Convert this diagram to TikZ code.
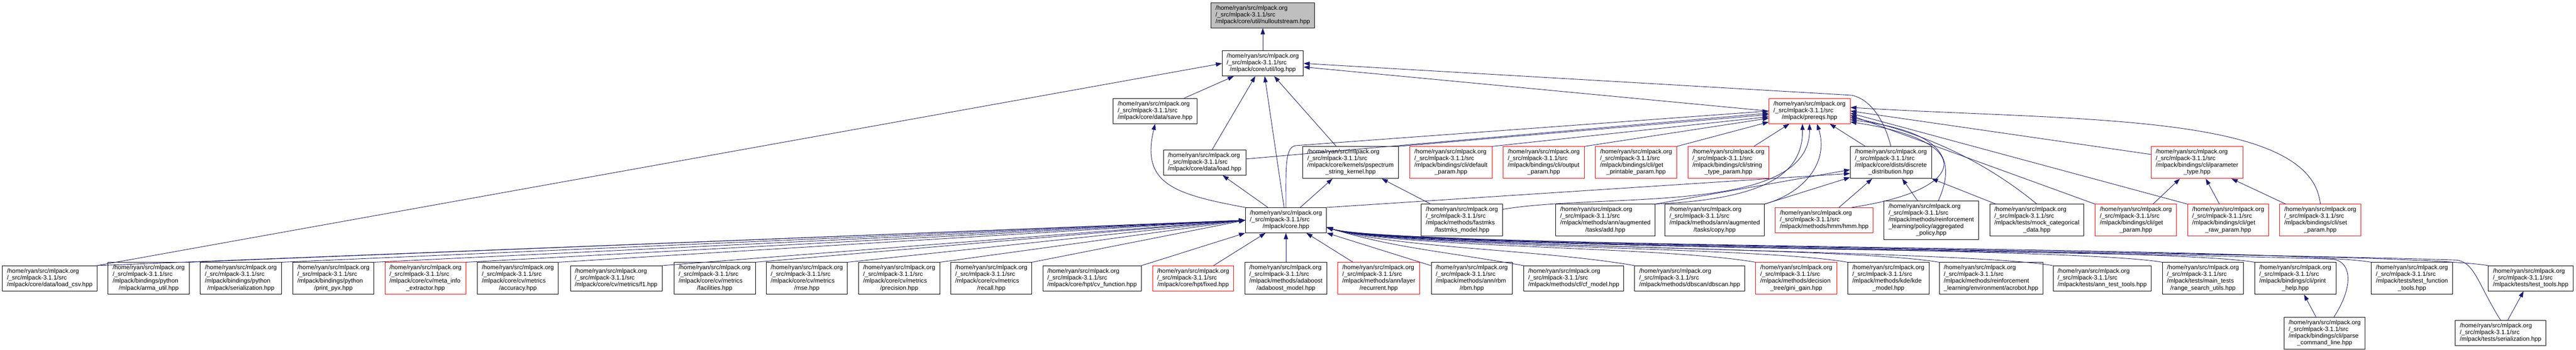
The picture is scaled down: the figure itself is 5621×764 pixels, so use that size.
\documentclass[tikz,border=0pt]{standalone}
\usepackage{fontspec}
\setmainfont{Liberation Sans}
\usetikzlibrary{arrows.meta}
\definecolor{edgeblue}{HTML}{191970}
\definecolor{rootgrey}{HTML}{BFBFBF}
\tikzset{
  filebox/.style={draw=black, fill=white, line width=0.75pt, inner xsep=7.5pt, inner ysep=4.1pt, font=\fontsize{10}{11}\selectfont},
  redbox/.style={filebox, draw=red},
  rootbox/.style={filebox, fill=rootgrey},
  inc/.style={draw=edgeblue, line width=0.75pt, -{Triangle[length=10pt,width=7pt]}}
}
\newcommand{\hpp}[2]{\begin{tabular}{@{}l@{}}/home/ryan/src/mlpack.org\\/\_src/mlpack-3.1.1/src\\#1\multicolumn{1}{@{}c@{}}{#2}\end{tabular}}
\newcommand{\hppnode}[6][filebox]{\node[#1] (#2) at (#3,#4) {\hpp{#5}{#6}};}

\begin{document}
\begin{tikzpicture}[x=0.75pt,y=-0.75pt]
        \useasboundingbox (0,0) rectangle (5621,764);
        % top
        \hppnode[rootbox]{root}{2755.5}{33.5}{}{/mlpack/core/util/nulloutstream.hpp}
        \hppnode{log}{2755.5}{138.5}{}{/mlpack/core/util/log.hpp}
        % level 2
        \hppnode{save}{2520.5}{242.5}{}{/mlpack/core/data/save.hpp}
        \hppnode[redbox]{prereqs}{3948.5}{242.5}{}{/mlpack/prereqs.hpp}
        % level 3
        \hppnode{load}{2628.5}{355}{}{/mlpack/core/data/load.hpp}
        \hppnode{pspectrum}{2947}{355}{/mlpack/core/kernels/pspectrum\\}{\_string\_kernel.hpp}
        \hppnode[redbox]{defparam}{3166}{355}{/mlpack/bindings/cli/default\\}{\_param.hpp}
        \hppnode[redbox]{outparam}{3368.5}{355}{/mlpack/bindings/cli/output\\}{\_param.hpp}
        \hppnode[redbox]{printparam}{3570}{355}{/mlpack/bindings/cli/get\\}{\_printable\_param.hpp}
        \hppnode[redbox]{strparam}{3771.5}{355}{/mlpack/bindings/cli/string\\}{\_type\_param.hpp}
        \hppnode{discrete}{4126}{355}{/mlpack/core/dists/discrete\\}{\_distribution.hpp}
        \hppnode[redbox]{paramtype}{4794}{355}{/mlpack/bindings/cli/parameter\\}{\_type.hpp}
        % level 4
        \hppnode{core}{2806}{481}{}{/mlpack/core.hpp}
        \hppnode{fastmks}{3190}{481}{/mlpack/methods/fastmks\\}{/fastmks\_model.hpp}
        \hppnode{augadd}{3503}{481}{/mlpack/methods/ann/augmented\\}{/tasks/add.hpp}
        \hppnode{augcopy}{3741.5}{481}{/mlpack/methods/ann/augmented\\}{/tasks/copy.hpp}
        \hppnode[redbox]{hmm}{3980.5}{481}{}{/mlpack/methods/hmm/hmm.hpp}
        \hppnode{aggpolicy}{4214}{481}{/mlpack/methods/reinforcement\\\_learning/policy/aggregated\\}{\_policy.hpp}
        \hppnode{mockcat}{4444.5}{481}{/mlpack/tests/mock\_categorical\\}{\_data.hpp}
        \hppnode[redbox]{getparam}{4660.5}{481}{/mlpack/bindings/cli/get\\}{\_param.hpp}
        \hppnode[redbox]{getraw}{4862}{481}{/mlpack/bindings/cli/get\\}{\_raw\_param.hpp}
        \hppnode[redbox]{setparam}{5063}{481}{/mlpack/bindings/cli/set\\}{\_param.hpp}
        % bottom row
        \hppnode{loadcsv}{108.5}{608}{}{/mlpack/core/data/load\_csv.hpp}
        \hppnode{armautil}{324.5}{608}{/mlpack/bindings/python\\}{/mlpack/arma\_util.hpp}
        \hppnode{pyser}{525.5}{608}{/mlpack/bindings/python\\}{/mlpack/serialization.hpp}
        \hppnode{printpyx}{727.5}{608}{/mlpack/bindings/python\\}{/print\_pyx.hpp}
        \hppnode[redbox]{metainfo}{928.5}{608}{/mlpack/core/cv/meta\_info\\}{\_extractor.hpp}
        \hppnode{accuracy}{1130}{608}{/mlpack/core/cv/metrics\\}{/accuracy.hpp}
        \hppnode{fone}{1344.5}{608}{}{/mlpack/core/cv/metrics/f1.hpp}
        \hppnode{facilities}{1559.5}{608}{/mlpack/core/cv/metrics\\}{/facilities.hpp}
        \hppnode{mse}{1760.5}{608}{/mlpack/core/cv/metrics\\}{/mse.hpp}
        \hppnode{precision}{1962}{608}{/mlpack/core/cv/metrics\\}{/precision.hpp}
        \hppnode{recall}{2163}{608}{/mlpack/core/cv/metrics\\}{/recall.hpp}
        \hppnode{cvfunc}{2383}{608}{}{/mlpack/core/hpt/cv\_function.hpp}
        \hppnode[redbox]{fixed}{2603.5}{608}{}{/mlpack/core/hpt/fixed.hpp}
        \hppnode{adaboost}{2806}{608}{/mlpack/methods/adaboost\\}{/adaboost\_model.hpp}
        \hppnode[redbox]{recurrent}{3008.5}{608}{/mlpack/methods/ann/layer\\}{/recurrent.hpp}
        \hppnode{rbm}{3211.5}{608}{/mlpack/methods/ann/rbm\\}{/rbm.hpp}
        \hppnode{cfmodel}{3434}{608}{}{/mlpack/methods/cf/cf\_model.hpp}
        \hppnode{dbscan}{3687}{608}{}{/mlpack/methods/dbscan/dbscan.hpp}
        \hppnode[redbox]{ginigain}{3919.5}{608}{/mlpack/methods/decision\\}{\_tree/gini\_gain.hpp}
        \hppnode{kdemodel}{4120.5}{608}{/mlpack/methods/kde/kde\\}{\_model.hpp}
        \hppnode{acrobot}{4344.5}{608}{/mlpack/methods/reinforcement\\}{\_learning/environment/acrobot.hpp}
        \hppnode{anntools}{4587}{608}{}{/mlpack/tests/ann\_test\_tools.hpp}
        \hppnode{rangeutils}{4807}{608}{/mlpack/tests/main\_tests\\}{/range\_search\_utils.hpp}
        \hppnode{printhelp}{5008.5}{608}{/mlpack/bindings/cli/print\\}{\_help.hpp}
        \hppnode{functools}{5263}{608}{/mlpack/tests/test\_function\\}{\_tools.hpp}
        \hppnode{testtools}{5522}{608}{}{/mlpack/tests/test\_tools.hpp}
        % lowest row
        \hppnode{parsecmd}{5072.5}{727.5}{/mlpack/bindings/cli/parse\\}{\_command\_line.hpp}
        \hppnode{testser}{5456.5}{727.5}{}{/mlpack/tests/serialization.hpp}
        % arrows to root and log
        \draw[inc] (log) -- (root);
        \draw[inc] (save) -- (log);
        \draw[inc] (load) -- (log);
        \draw[inc] (core) -- (log);
        \draw[inc] (pspectrum) -- (log);
        \draw[inc] (loadcsv.north east) -- (log.west);
        \draw[inc] (prereqs.west) -- (log.355);
        \draw[inc] (discrete.north) .. controls +(-15,-60) and +(40,8) .. (4040,208) -- (log.east);
        % arrows to prereqs
        \draw[inc] (core.north) .. controls +(0,-84) and +(-25,2) .. (2828,318) -- (prereqs.west);
        \draw[inc] (load) -- (prereqs.183);
        \draw[inc] (pspectrum.north east) -- (prereqs.185);
        \draw[inc] (defparam.north east) -- (prereqs.188);
        \draw[inc] (outparam.north east) -- (prereqs.190);
        \draw[inc] (printparam.north east) -- (prereqs.195);
        \draw[inc] (strparam) -- (prereqs);
        \draw[inc] (discrete) -- (prereqs);
        \draw[inc] (fastmks.15) .. controls +(221,-37) and +(1.5,200.5) .. (prereqs.south);
        \draw[inc] (augadd.north east) .. controls +(240,-11) and +(1.5,110) .. (prereqs.241);
        \draw[inc] (augcopy.north east) .. controls +(91,-26) and +(26,80) .. (prereqs.300);
        \draw[inc] (hmm.25) .. controls +(266,-40) and +(270,40) .. (prereqs.345);
        \draw[inc] (aggpolicy.70) .. controls +(45,-100) and +(190,25) .. (prereqs.348);
        \draw[inc] (mockcat.north) .. controls +(-140,-116) and +(113,22) .. (prereqs.351);
        \draw[inc] (getparam.north west) -- (prereqs.354);
        \draw[inc] (getraw.north west) -- (prereqs.357);
        \draw[inc] (paramtype.170) -- (prereqs.east);
        \draw[inc] (setparam.north) .. controls +(-20,-200) and +(500,30) .. (prereqs.5);
        % arrows to discrete distribution
        \draw[inc] (core.north east) -- (discrete.195);
        \draw[inc] (augadd.north east) -- (discrete.190);
        \draw[inc] (augcopy.north east) -- (discrete.200);
        \draw[inc] (hmm) -- (discrete);
        \draw[inc] (aggpolicy) -- (discrete);
        \draw[inc] (mockcat) -- (discrete);
        % arrows to pspectrum, load, save
        \draw[inc] (fastmks) -- (pspectrum);
        \draw[inc] (core) -- (pspectrum);
        \draw[inc] (core) -- (load);
        \draw[inc] (core.north west) .. controls +(-157,-29) and +(-31,130) .. (save.south);
        % arrows to parameter type
        \draw[inc] (getparam) -- (paramtype);
        \draw[inc] (getraw) -- (paramtype);
        \draw[inc] (setparam) -- (paramtype);
        % arrows to core, left part
        \draw[inc] (loadcsv.north east) -- (core.west);
        \draw[inc] (armautil.north east) -- (core.west);
        \draw[inc] (pyser.north east) -- (core.west);
        \draw[inc] (printpyx.north east) -- (core.west);
        \draw[inc] (metainfo.north east) -- (core.west);
        \draw[inc] (accuracy.north east) -- (core.west);
        \draw[inc] (fone.north east) -- (core.west);
        \draw[inc] (facilities.north east) -- (core.west);
        \draw[inc] (mse.north east) -- (core.west);
        \draw[inc] (precision.north east) -- (core.west);
        \draw[inc] (recall.north east) -- (core.west);
        \draw[inc] (cvfunc.north east) -- (core.south west);
        \draw[inc] (fixed) -- (core);
        \draw[inc] (adaboost) -- (core);
        \draw[inc] (recurrent) -- (core);
        \draw[inc] (rbm) -- (core);
        % arrows to core, right part
        \draw[inc] (cfmodel.north west) .. controls +(-200,-35) and +(150,45) .. (core.350);
        \draw[inc] (dbscan.north west) .. controls +(-200,-35) and +(150,45) .. (core.350);
        \draw[inc] (ginigain.north west) .. controls +(-200,-35) and +(150,45) .. (core.350);
        \draw[inc] (kdemodel.north west) .. controls +(-200,-35) and +(150,45) .. (core.350);
        \draw[inc] (acrobot.north west) .. controls +(-200,-35) and +(150,45) .. (core.350);
        \draw[inc] (anntools.north west) .. controls +(-200,-35) and +(150,45) .. (core.350);
        \draw[inc] (rangeutils.north west) .. controls +(-200,-35) and +(150,45) .. (core.350);
        \draw[inc] (printhelp.north west) .. controls +(-200,-35) and +(150,45) .. (core.350);
        \draw[inc] (functools.north west) .. controls +(-200,-35) and +(150,45) .. (core.350);
        \draw[inc] (testtools.north west) .. controls +(-200,-35) and +(150,45) .. (core.350);
        \draw[inc] (parsecmd.60) .. controls +(45,-70) and +(40,5) .. (5090,566) .. controls +(-600,-20) and +(150,45) .. (core.350);
        \draw[inc] (testser.north) .. controls +(-50,-80) and +(40,5) .. (5360,568) .. controls +(-600,-20) and +(150,45) .. (core.350);
        % lowest row
        \draw[inc] (parsecmd) -- (printhelp);
        \draw[inc] (testser) -- (testtools);
\end{tikzpicture}
\end{document}
